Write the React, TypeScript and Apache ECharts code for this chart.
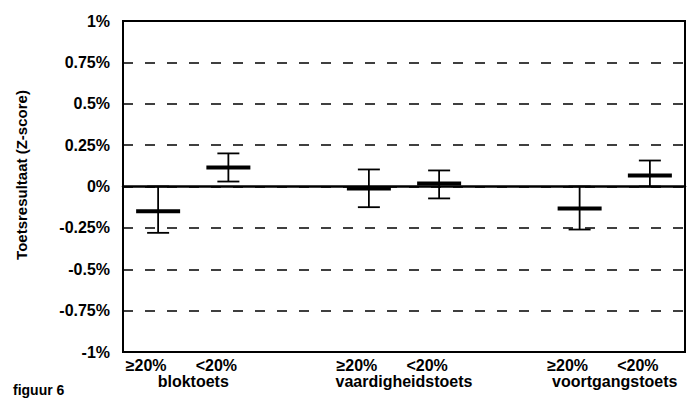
import React, { useEffect, useRef } from "react";
import * as echarts from "echarts";

const subLabels = ["≥20%", "<20%", "", "≥20%", "<20%", "", "≥20%", "<20%"];
const groupNames = ["bloktoets", "vaardigheidstoets", "voortgangstoets"];
const groupPositions = [0.5, 3.5, 6.5];
const barPositions = [0, 1, 3, 4, 6, 7];
const lows = [-0.28, 0.03, -0.125, -0.072, -0.26, 0.0];
const means = [-0.15, 0.115, -0.012, 0.018, -0.133, 0.066];
const highs = [0.0, 0.2, 0.103, 0.097, 0.0, 0.157];
const yTickMin = -1;
const yTickMax = 1;
const yTickStep = 0.25;
const yTitle = "Toetsresultaat (Z-score)";
const figureLabel = "figuur 6";

const FONT = '"Liberation Sans", Arial, sans-serif';

export default function App() {
  const ref = useRef<HTMLDivElement>(null);
  useEffect(() => {
    if (!ref.current) return;
    const chart = echarts.init(ref.current, undefined, { renderer: "svg" });
    const data = barPositions.map((x, i) => [x, lows[i], means[i], highs[i]]);
    chart.setOption({
      animation: false,
      backgroundColor: "#fff",
      grid: {
        left: 123,
        right: -3,
        top: 21,
        bottom: 49,
        show: true,
        borderColor: "#000",
        borderWidth: 2,
        backgroundColor: "transparent",
      },
      xAxis: [
        {
          type: "category",
          data: subLabels,
          position: "bottom",
          axisLine: { show: false, onZero: false },
          axisTick: { show: false },
          splitLine: { show: false },
          axisLabel: {
            interval: 0,
            margin: 5,
            color: "#000",
            fontFamily: FONT,
            fontWeight: "bold",
            fontSize: 16,
            padding: [0, 24, 0, 0],
          },
        },
        {
          type: "value",
          min: -0.5,
          max: 7.5,
          interval: 0.5,
          position: "bottom",
          axisLine: { show: false, onZero: false },
          axisTick: { show: false },
          splitLine: { show: false },
          axisLabel: {
            margin: 21,
            color: "#000",
            fontFamily: FONT,
            fontWeight: "bold",
            fontSize: 16,
            showMinLabel: true,
            showMaxLabel: true,
            formatter: (v: number) => {
              const idx = groupPositions.findIndex((p) => Math.abs(p - v) < 1e-6);
              return idx >= 0 ? groupNames[idx] : "";
            },
          },
        },
        {
          type: "category",
          data: subLabels,
          position: "bottom",
          axisLine: { show: true, onZero: true, lineStyle: { color: "#000", width: 2.5 } },
          axisTick: { show: false },
          axisLabel: { show: false },
          splitLine: { show: false },
        },
      ],
      yAxis: {
        type: "value",
        min: yTickMin,
        max: yTickMax,
        interval: yTickStep,
        axisLine: { show: false, onZero: false },
        axisTick: { show: false },
        axisLabel: {
          margin: 13,
          color: "#000",
          fontFamily: FONT,
          fontWeight: "bold",
          fontSize: 16,
          formatter: (v: number) => `${v}%`,
        },
        splitLine: {
          show: true,
          lineStyle: { color: "#000", width: 1.5, type: [10, 12] },
        },
      },
      graphic: [
        {
          type: "text",
          x: 21,
          y: 175,
          rotation: Math.PI / 2,
          style: {
            text: yTitle,
            textAlign: "center",
            textVerticalAlign: "middle",
            font: `bold 15px ${FONT}`,
            fill: "#000",
          },
        },
        {
          type: "text",
          x: 13,
          y: 383,
          style: {
            text: figureLabel,
            textAlign: "left",
            textVerticalAlign: "top",
            font: `bold 14px ${FONT}`,
            fill: "#000",
          },
        },
      ],
      series: [
        {
          type: "custom",
          xAxisIndex: 0,
          yAxisIndex: 0,
          data,
          encode: { x: 0, y: [1, 2, 3] },
          z: 10,
          renderItem: (params: any, api: any) => {
            const x = api.value(0);
            const lo = api.coord([x, api.value(1)]);
            const mid = api.coord([x, api.value(2)]);
            const hi = api.coord([x, api.value(3)]);
            const capW = 11;
            const meanW = 22;
            const s = { stroke: "#000", lineWidth: 1.8 };
            return {
              type: "group",
              children: [
                { type: "line", shape: { x1: hi[0], y1: hi[1], x2: lo[0], y2: lo[1] }, style: s },
                { type: "line", shape: { x1: hi[0] - capW, y1: hi[1], x2: hi[0] + capW, y2: hi[1] }, style: s },
                { type: "line", shape: { x1: lo[0] - capW, y1: lo[1], x2: lo[0] + capW, y2: lo[1] }, style: s },
                {
                  type: "line",
                  shape: { x1: mid[0] - meanW, y1: mid[1], x2: mid[0] + meanW, y2: mid[1] },
                  style: { stroke: "#000", lineWidth: 4 },
                },
              ],
            };
          },
        },
      ],
    });
    return () => chart.dispose();
  }, []);
  return (
    <div
      ref={ref}
      style={{ position: "fixed", left: 0, top: 0, width: 688, height: 401 }}
    />
  );
}
